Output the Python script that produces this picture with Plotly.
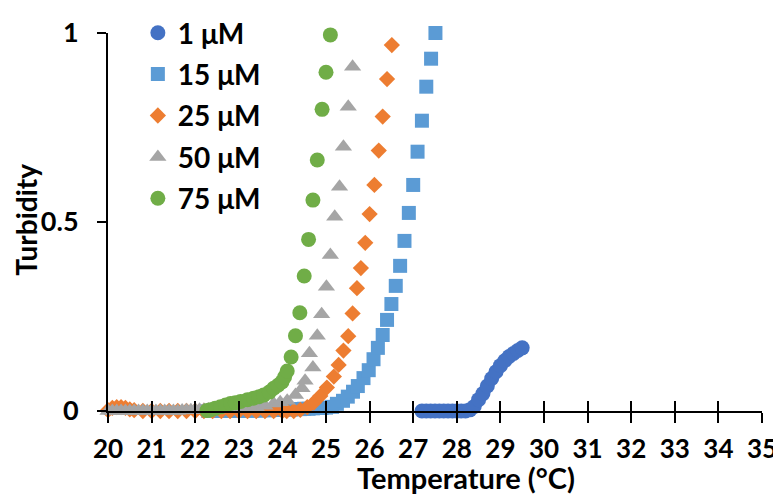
import plotly.graph_objects as go

# ---------------- data ----------------
x_1uM = [27.2, 27.3, 27.4, 27.5, 27.6, 27.7, 27.8, 27.9, 28.0, 28.1, 28.2, 28.3,
         28.4, 28.5, 28.6, 28.7, 28.8, 28.9, 29.0, 29.1, 29.2, 29.3, 29.4, 29.5]
y_1uM = [0.0, 0.0, 0.0, 0.0, 0.0, 0.0, 0.0, 0.0, 0.0, 0.0, 0.0, 0.003,
         0.012, 0.030, 0.046, 0.066, 0.086, 0.104, 0.120, 0.133, 0.144, 0.152, 0.160, 0.167]

x_15uM = [22.3, 22.4, 22.5, 22.6, 22.7, 22.8, 22.9, 23.0, 23.1, 23.2, 23.3, 23.4, 23.5,
          23.6, 23.7, 23.8, 23.9, 24.0, 24.1, 24.2, 24.3, 24.4, 24.5, 24.6, 24.7, 24.8,
          24.9, 25.0, 25.14, 25.25, 25.39, 25.50, 25.62, 25.73, 25.86, 25.98, 26.09, 26.19,
          26.30, 26.40, 26.50, 26.60, 26.70, 26.80, 26.90, 27.00, 27.10, 27.20, 27.30,
          27.41, 27.51]
y_15uM = [0.0, 0.0, 0.0, 0.0, 0.0, 0.0, 0.0, 0.0, 0.001, 0.001, 0.001, 0.001, 0.002,
          0.002, 0.002, 0.003, 0.003, 0.003, 0.004, 0.004, 0.005, 0.005, 0.006, 0.006,
          0.007, 0.008, 0.008, 0.009, 0.011, 0.019, 0.027, 0.038, 0.051, 0.066, 0.087,
          0.108, 0.137, 0.167, 0.201, 0.241, 0.283, 0.331, 0.384, 0.450, 0.524, 0.598,
          0.686, 0.768, 0.858, 0.932, 1.000]

x_25uM = [20.0, 20.1, 20.2, 20.3, 20.4, 20.5, 20.6, 20.8, 21.0, 21.2, 21.4, 21.6, 21.8,
          22.0, 22.2, 22.4, 22.6, 22.8, 23.0, 23.2, 23.4, 23.6, 23.8, 24.0, 24.1,
          24.26, 24.41, 24.57, 24.72, 24.87, 25.02, 25.18, 25.29, 25.40, 25.51, 25.61,
          25.71, 25.80, 25.90, 26.00, 26.11, 26.21, 26.30, 26.40, 26.51]
y_25uM = [0.002, 0.008, 0.010, 0.010, 0.008, 0.004, 0.002, 0.0, 0.0, 0.0, 0.0, 0.0, 0.0,
          0.0, 0.0, 0.0, 0.0, 0.0, 0.0, 0.0, 0.0, 0.0, 0.0, 0.0, 0.0,
          0.0, 0.003, 0.010, 0.022, 0.040, 0.062, 0.091, 0.122, 0.160, 0.198, 0.258,
          0.325, 0.378, 0.445, 0.521, 0.598, 0.689, 0.779, 0.878, 0.968]

x_50uM = [20.0, 20.1, 20.2, 20.3, 20.4, 20.5, 20.6, 20.7, 20.8, 20.9, 21.0, 21.1, 21.2,
          21.3, 21.4, 21.5, 21.6, 21.7, 21.8, 21.9, 22.0, 22.1, 22.2, 22.3, 22.4, 22.5,
          22.6, 22.7, 22.8, 22.9, 23.0, 23.2, 23.4, 23.6, 23.8, 23.95,
          24.11, 24.30, 24.45, 24.52, 24.62, 24.70, 24.80, 24.90, 25.01, 25.10, 25.20,
          25.31, 25.40, 25.51, 25.61]
y_50uM = [0.0, 0.0, 0.0, 0.0, 0.0, 0.0, 0.0, 0.0, 0.0, 0.0, 0.0, 0.0, 0.0,
          0.0, 0.0, 0.0, 0.0, 0.001, 0.002, 0.002, 0.003, 0.003, 0.003, 0.004, 0.004, 0.004,
          0.005, 0.005, 0.005, 0.006, 0.006, 0.007, 0.010, 0.014, 0.020, 0.023,
          0.027, 0.042, 0.060, 0.080, 0.153, 0.115, 0.199, 0.256, 0.329, 0.413, 0.514,
          0.593, 0.699, 0.805, 0.911]

x_75uM = [22.27, 22.35, 22.46, 22.58, 22.70, 22.81, 22.92, 23.04, 23.20, 23.34, 23.46,
          23.57, 23.70, 23.80, 23.90, 23.99, 24.05, 24.11, 24.20, 24.30, 24.40, 24.50,
          24.60, 24.70, 24.80, 24.91, 25.00, 25.10]
y_75uM = [0.001, 0.003, 0.007, 0.011, 0.016, 0.020, 0.022, 0.025, 0.030, 0.034, 0.038,
          0.042, 0.050, 0.060, 0.068, 0.077, 0.090, 0.106, 0.143, 0.199, 0.260, 0.357,
          0.454, 0.558, 0.664, 0.798, 0.896, 0.995]

series_names = ["1 μM", "15 μM", "25 μM", "50 μM", "75 μM"]
x_ticks = list(range(20, 36))
y_ticks = [0, 0.5, 1]
y_tick_text = ["0", "0.5", "1"]
x_title = "Temperature (°C)"
y_title = "Turbidity"

# ---------------- figure ----------------
FONT = "Lato"
fig = go.Figure()

styles = [
    dict(symbol="circle", size=15, color="#4472C4"),
    dict(symbol="square", size=14, color="#5B9BD5"),
    dict(symbol="diamond", size=12.5, color="#ED7D31"),
    dict(symbol="triangle-up", size=15, color="#A5A5A5"),
    dict(symbol="circle", size=15, color="#70AD47"),
]
data = [(x_1uM, y_1uM), (x_15uM, y_15uM), (x_25uM, y_25uM), (x_50uM, y_50uM), (x_75uM, y_75uM)]

for i, (name, (xs, ys), st) in enumerate(zip(series_names, data, styles)):
    marker = dict(symbol=st["symbol"], size=st["size"], color=st["color"], line=dict(width=0))
    fig.add_trace(go.Scatter(
        x=xs, y=ys, mode="markers", name=name, marker=marker,
        cliponaxis=False, legendgroup=f"g{i}",
        xaxis="x2" if i == 0 else "x", yaxis="y",
    ))

axis_common = dict(range=[20, 35], tickvals=x_ticks, showgrid=False, zeroline=False)

# page body adds an 8px margin, so the figure is 8px smaller than the window
fig.update_layout(
    width=773, height=488,
    margin=dict(l=99.5, r=19, t=25, b=85, autoexpand=False),
    paper_bgcolor="white", plot_bgcolor="white",
    font=dict(family=FONT, size=26, color="black", weight="bold"),
    showlegend=True,
    legend=dict(
        xref="container", yref="container",
        x=0.168, y=1.019, xanchor="left", yanchor="top",
        bgcolor="rgba(0,0,0,0)", borderwidth=0,
        font=dict(family=FONT, size=28, color="black", weight="bold"),
        itemsizing="trace", traceorder="grouped", tracegroupgap=2,
    ),
    xaxis=dict(
        **axis_common,
        showline=True, linecolor="black", linewidth=2,
        ticks="outside", ticklen=10, tickwidth=1.5, tickcolor="black",
        tickfont=dict(family=FONT, size=26, color="black", weight="bold"),
        ticklabelstandoff=4,
    ),
    xaxis2=dict(
        **axis_common,
        overlaying="x", anchor="y", side="bottom",
        showline=False, showticklabels=False,
        ticks="inside", ticklen=10, tickwidth=1.5, tickcolor="black",
    ),
    yaxis=dict(
        range=[0, 1], tickvals=y_ticks, ticktext=y_tick_text,
        showgrid=False, zeroline=False,
        showline=True, linecolor="black", linewidth=2,
        ticks="outside", ticklen=9, tickwidth=1.5, tickcolor="black",
        tickfont=dict(family=FONT, size=27, color="black", weight="bold"),
        ticklabelstandoff=13,
    ),
    annotations=[
        dict(text=x_title, xref="paper", yref="paper", x=0.548, y=-0.175,
             xanchor="center", yanchor="middle", showarrow=False,
             font=dict(family=FONT, size=29, color="black", weight="bold")),
        dict(text=y_title, xref="paper", yref="paper", x=-0.1245, y=0.505,
             xanchor="center", yanchor="middle", showarrow=False, textangle=-90,
             font=dict(family=FONT, size=28, color="black", weight="bold")),
    ],
)

fig.write_html("out.html")
